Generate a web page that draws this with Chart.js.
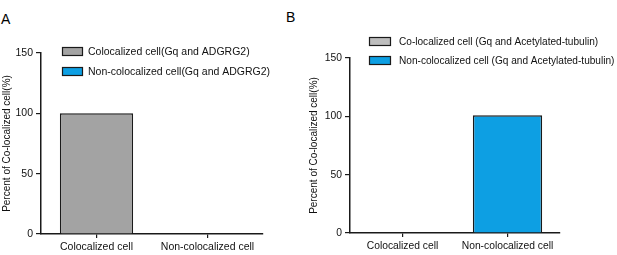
<!DOCTYPE html>
<html>
<head>
<meta charset="utf-8">
<script src="https://cdn.jsdelivr.net/npm/chart.js@4/dist/chart.umd.min.js"></script>
<style>
html,body{margin:0;padding:0;background:#fff;}
body{width:617px;height:255px;position:relative;overflow:hidden;font-family:"Liberation Sans",Arial,sans-serif;}
.wrap{position:absolute;top:0;height:255px;}
#wa{left:0;width:300px;}
#wb{left:300px;width:317px;}
.lab{position:absolute;font-size:14px;color:#000;font-family:"Liberation Sans",Arial,sans-serif;line-height:1;}
</style>
</head>
<body>
<div class="lab" style="left:1px;top:12px;">A</div>
<div class="lab" style="left:286px;top:10px;">B</div>
<div class="wrap" id="wa"><canvas id="ca" width="300" height="255"></canvas></div>
<div class="wrap" id="wb"><canvas id="cb" width="317" height="255"></canvas></div>
<script>
// ---- data ----
const categories = ["Colocalized cell", "Non-colocalized cell"];
const labelsA = ["Colocalized cell(Gq and ADGRG2)", "Non-colocalized cell(Gq and ADGRG2)"];
const colocA = [100, null];
const nonColocA = [null, 0];
const labelsB = ["Co-localized cell (Gq and Acetylated-tubulin)", "Non-colocalized cell (Gq and Acetylated-tubulin)"];
const colocB = [0, null];
const nonColocB = [null, 101];
const yTicks = [0, 50, 100, 150];
const yTitle = "Percent of Co-localized cell(%)";

const FONT = "'Liberation Sans', Arial, sans-serif";

function legendPlugin(cfg) {
  return {
    id: 'customLegend',
    afterDraw(chart) {
      const ctx = chart.ctx;
      ctx.save();
      chart.data.datasets.forEach((ds, i) => {
        const y = cfg.ys[i];
        ctx.fillStyle = cfg.boxColors[i];
        ctx.fillRect(cfg.boxX, y, cfg.boxW, cfg.boxH);
        ctx.strokeStyle = '#1a1a1a';
        ctx.lineWidth = 1.2;
        ctx.strokeRect(cfg.boxX + 0.5, y + 0.5, cfg.boxW - 1, cfg.boxH - 1);
        ctx.fillStyle = '#111';
        ctx.font = cfg.fontSize + 'px ' + FONT;
        ctx.textBaseline = 'middle';
        ctx.textAlign = 'left';
        ctx.fillText(ds.label, cfg.textX, y + cfg.boxH / 2 + 0.5);
      });
      ctx.restore();
    }
  };
}

function makeChart(id, dsLabels, d1, d2, c1, c2, o) {
  return new Chart(document.getElementById(id), {
    type: 'bar',
    data: {
      labels: categories,
      datasets: [
        { label: dsLabels[0], data: d1, backgroundColor: c1, borderColor: '#1a1a1a', borderWidth: 1.5, borderSkipped: 'bottom' },
        { label: dsLabels[1], data: d2, backgroundColor: c2, borderColor: '#1a1a1a', borderWidth: 1.5, borderSkipped: 'bottom' }
      ]
    },
    options: {
      responsive: false,
      animation: false,
      devicePixelRatio: 1,
      layout: { padding: o.padding },
      plugins: { legend: { display: false }, tooltip: { enabled: false } },
      datasets: { bar: { grouped: false, barPercentage: 0.66, categoryPercentage: 1.0 } },
      scales: {
        x: {
          offset: true,
          grid: { offset: false, drawOnChartArea: false, drawTicks: true, tickLength: 4, color: '#1a1a1a', lineWidth: 1.2 },
          border: { color: '#1a1a1a', width: 1.5 },
          ticks: { color: '#111', font: { family: FONT, size: o.fs }, padding: 3, maxRotation: 0 },
          afterFit(s) { s.height = o.xh; }
        },
        y: {
          min: 0, max: 150,
          afterBuildTicks(s) { s.ticks = yTicks.map(v => ({ value: v })); },
          grid: { drawOnChartArea: false, drawTicks: true, tickLength: 5, color: '#1a1a1a', lineWidth: 1.2 },
          border: { color: '#1a1a1a', width: 1.5 },
          ticks: { color: '#111', font: { family: FONT, size: o.fs }, padding: 3 },
          title: { display: true, text: yTitle, color: '#111', font: { family: FONT, size: 10 }, padding: { top: 1, bottom: 0 } },
          afterFit(s) { s.width = o.yw; }
        }
      }
    },
    plugins: [legendPlugin(o.legend)]
  });
}

makeChart('ca', labelsA, colocA, nonColocA, '#a3a3a3', '#0d9fe3', {
  padding: { left: 0, right: 37, top: 53, bottom: 0 },
  xh: 21, yw: 41, fs: 10.5,
  legend: { boxX: 62, boxW: 21, boxH: 9, ys: [47, 67], textX: 88, fontSize: 10.5, boxColors: ['#a3a3a3', '#0d9fe3'] }
});

makeChart('cb', labelsB, colocB, nonColocB, '#bdbdbd', '#0d9fe3', {
  padding: { left: 7, right: 57, top: 58, bottom: 0 },
  xh: 22, yw: 43, fs: 10.3,
  legend: { boxX: 69, boxW: 22, boxH: 9, ys: [37, 56], textX: 99, fontSize: 10.1, boxColors: ['#bdbdbd', '#0d9fe3'] }
});
</script>
</body>
</html>
